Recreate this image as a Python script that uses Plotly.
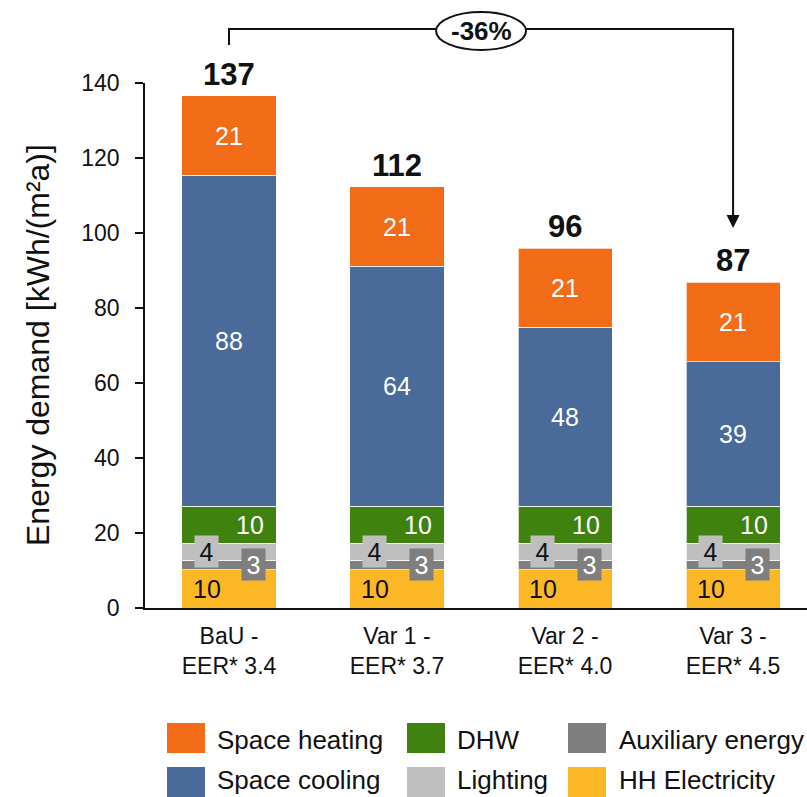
import plotly.graph_objects as go

# Scenario labels (x axis)
scenarios = ["BaU -<br>EER* 3.4", "Var 1 -<br>EER* 3.7", "Var 2 -<br>EER* 4.0", "Var 3 -<br>EER* 4.5"]

# Final energy demand per end use, kWh/(m²a), stacked bottom to top
hh_electricity = [10.2, 10.2, 10.2, 10.2]
auxiliary = [2.6, 2.6, 2.6, 2.6]
lighting = [4.5, 4.5, 4.5, 4.5]
dhw = [9.8, 9.8, 9.8, 9.8]
space_cooling = [88.3, 64.0, 47.8, 38.6]
space_heating = [21.2, 21.2, 21.1, 21.2]

reduction_label = "-36%"

series = [
    ("HH Electricity", hh_electricity, "#FBB726"),
    ("Auxiliary energy", auxiliary, "#7F7F7F"),
    ("Lighting", lighting, "#BFBFBF"),
    ("DHW", dhw, "#3F8210"),
    ("Space cooling", space_cooling, "#4A6A99"),
    ("Space heating", space_heating, "#F26B16"),
]

W, H = 807, 797
L, R, T, B = 145, 0, 83, 189
YMAX = 140
X0, X1 = -0.5, 3.44
FONT = "Liberation Sans, Arial, sans-serif"
INK = "#111111"


def px_x(p):
    return (p - L) / (W - L - R)


def px_y(p):
    return (H - B - p) / (H - T - B)


def data_to_paper_x(xv):
    return (xv - X0) / (X1 - X0)


fig = go.Figure()
for name, vals, color in series:
    fig.add_trace(go.Bar(
        x=list(range(len(scenarios))), y=vals, name=name,
        marker=dict(color=color, line=dict(color="rgba(255,255,255,0.7)", width=1)),
        width=0.56, showlegend=False, hoverinfo="name+y",
    ))

annotations = []
shapes = []

# Segment labels: offsets inside each bar per end use
label_style = {
    "HH Electricity": dict(xshift=-22, color=INK, bg=None),
    "Auxiliary energy": dict(xshift=24, color="white", bg="#7F7F7F"),
    "Lighting": dict(xshift=-23, color=INK, bg="#BFBFBF"),
    "DHW": dict(xshift=21, color="white", bg=None),
    "Space cooling": dict(xshift=0, color="white", bg=None),
    "Space heating": dict(xshift=0, color="white", bg=None),
}
n = len(scenarios)
base = [0.0] * n
for name, vals, color in series:
    st = label_style[name]
    for i in range(n):
        mid = base[i] + vals[i] / 2
        a = dict(x=i, y=mid, xref="x", yref="y", text=f"{vals[i]:.0f}", showarrow=False,
                 xanchor="center", yanchor="middle",
                 xshift=st["xshift"], font=dict(family=FONT, size=25, color=st["color"]))
        if st["bg"]:
            a.update(bgcolor=st["bg"], borderpad=1, width=21, height=29)
        annotations.append(a)
        base[i] += vals[i]

# Totals above bars
for i in range(n):
    annotations.append(dict(x=i, y=base[i], xref="x", yref="y", text=f"<b>{base[i]:.0f}</b>",
                            showarrow=False, xanchor="center", yanchor="bottom", yshift=2,
                            font=dict(family=FONT, size=31, color=INK)))

# Reduction bracket from BaU to Var 3
xl = data_to_paper_x(0)
xr = data_to_paper_x(3)
y_top = px_y(29)
y_left_end = px_y(45)
y_arrow = px_y(228)
shapes.append(dict(type="path", xref="paper", yref="paper",
                   path=f"M {xl},{y_left_end} L {xl},{y_top} L {xr},{y_top} L {xr},{px_y(215)}",
                   line=dict(color=INK, width=2)))
annotations.append(dict(x=xr, y=y_arrow, ax=0, ay=-16, xref="paper", yref="paper",
                        showarrow=True, arrowhead=2, arrowsize=1.3,
                        arrowwidth=2, arrowcolor=INK, text=""))
xm = (xl + xr) / 2
xm_px = L + xm * (W - L - R)
shapes.append(dict(type="circle", xref="paper", yref="paper",
                   x0=px_x(xm_px - 45), x1=px_x(xm_px + 45), y0=px_y(50), y1=px_y(12),
                   fillcolor="white", line=dict(color=INK, width=2)))
annotations.append(dict(x=xm, y=px_y(31), xref="paper", yref="paper", text=f"<b>{reduction_label}</b>",
                        showarrow=False, xanchor="center", yanchor="middle",
                        font=dict(family=FONT, size=26, color=INK)))

# Y axis title
annotations.append(dict(x=px_x(38), y=px_y(345), xref="paper", yref="paper",
                        text="Energy demand [kWh/(m²a)]", textangle=-90, showarrow=False,
                        xanchor="center", yanchor="middle",
                        font=dict(family=FONT, size=32, color=INK)))

# Legend drawn as swatches with labels
legend_rows = [
    [("Space heating", 167, 215), ("DHW", 407, 455), ("Auxiliary energy", 568, 617)],
    [("Space cooling", 167, 215), ("Lighting", 407, 455), ("HH Electricity", 568, 617)],
]
colors = {name: c for name, _, c in series}
row_y = [(723, 753), (767, 797)]
text_y = [740, 780]
for r, row in enumerate(legend_rows):
    y0p, y1p = row_y[r]
    for name, sx, tx in row:
        shapes.append(dict(type="rect", xref="paper", yref="paper",
                           x0=px_x(sx), x1=px_x(sx + 38), y0=px_y(y1p), y1=px_y(y0p),
                           fillcolor=colors[name], line=dict(width=0)))
        annotations.append(dict(x=px_x(tx), y=px_y(text_y[r]), xref="paper", yref="paper",
                                text=name, showarrow=False, xanchor="left", yanchor="middle",
                                font=dict(family=FONT, size=26, color=INK)))

fig.update_layout(
    width=W, height=H,
    margin=dict(l=L, r=R, t=T, b=B),
    barmode="stack", bargap=0.44,
    plot_bgcolor="white", paper_bgcolor="white",
    font=dict(family=FONT, size=23, color=INK),
    xaxis=dict(range=[X0, X1], tickmode="array", tickvals=list(range(n)), ticktext=scenarios,
               showline=True, linecolor=INK, linewidth=1.5, ticks="", showgrid=False,
               tickfont=dict(size=23), zeroline=False, ticklabelstandoff=7),
    yaxis=dict(range=[0, YMAX], tickvals=list(range(0, 141, 20)), showline=True,
               linecolor=INK, linewidth=1.5, ticks="outside", ticklen=8, tickwidth=1.5,
               tickcolor=INK, showgrid=False, zeroline=False, tickfont=dict(size=23),
               ticklabelstandoff=11),
    annotations=annotations, shapes=shapes,
)

fig.write_html("out.html")
